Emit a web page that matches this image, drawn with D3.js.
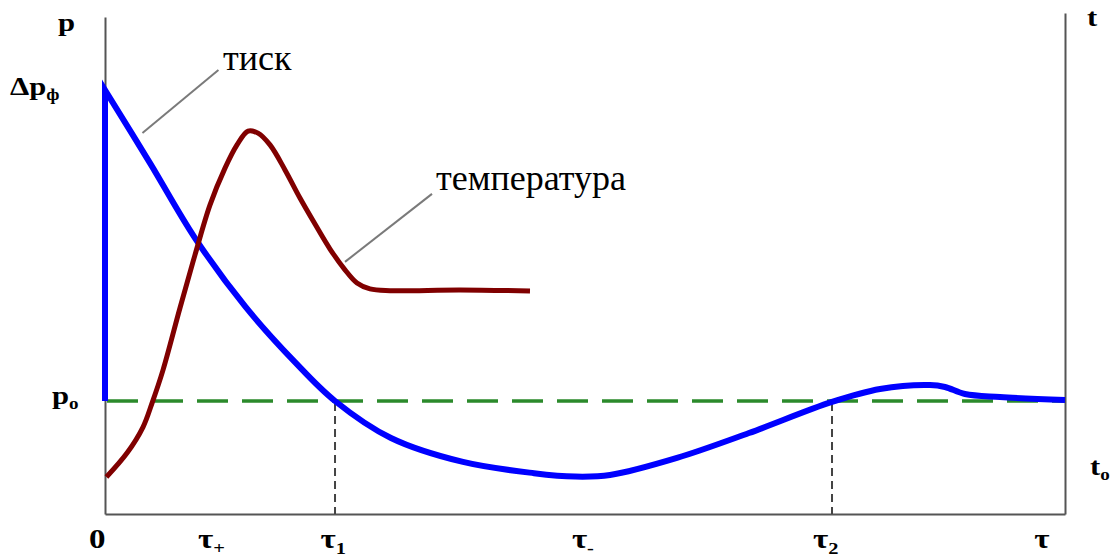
<!DOCTYPE html>
<html>
<head>
<meta charset="utf-8">
<script src="https://cdn.jsdelivr.net/npm/d3@7"></script>
<style>
  html, body { margin: 0; padding: 0; background: #fff; }
  svg { display: block; }
</style>
</head>
<body>
<div id="chart"></div>
<script>
// pressure curve (tau in % of the plotted span, p relative: p0 = 0, Δpф = 1)
const pressTau = [0, 0, 4.69, 9.375, 14.58, 19.79, 23.96, 29.79, 37.29, 44.69, 48.96, 52.6, 59.58, 67.08, 75.73, 80.73, 85.94, 87.5, 89.58, 93.23, 100];
const pressVal = [0, 1, 0.765, 0.524, 0.305, 0.125, 0, -0.119, -0.196, -0.232, -0.243, -0.238, -0.183, -0.103, -0.003, 0.0386, 0.0514, 0.045, 0.0225, 0.0129, 0.003];

// temperature curve (t0 = 0, peak = 1)
const tempTau = [0.15, 2.29, 3.96, 4.9, 6.04, 7.81, 9.375, 10.94, 12.5, 13.75, 14.9, 15.94, 17.19, 18.75, 20.31, 21.875, 23.44, 25.0, 26.25, 27.6, 29.69, 36.98, 44.27];
const tempVal = [0, 0.069, 0.144, 0.213, 0.308, 0.487, 0.640, 0.784, 0.890, 0.957, 0.997, 0.991, 0.957, 0.885, 0.804, 0.729, 0.657, 0.597, 0.559, 0.542, 0.537, 0.539, 0.536];

// bottom tick labels: [base, subscript]
const tauTickValues = [-0.8, 11.5, 24.2, 50.2, 75.5, 97.6];
const tauTickLabels = [['0', ''], ['τ', '+'], ['τ', '1'], ['τ', '-'], ['τ', '2'], ['τ', '']];
// vertical guides at tau1, tau2
const crossTau = [23.96, 75.73];

const width = 1112, height = 557;
const SX = 1.18; // text in the reference is stretched sideways
const FONT = "'Liberation Serif', 'Times New Roman', serif";

const x = d3.scaleLinear().domain([0, 100]).range([105, 1065]);
const y = d3.scaleLinear().domain([0, 1]).range([401, 90]);
const yT = d3.scaleLinear().domain([0, 1]).range([477, 130]);
const BOTTOM = 514;

const svg = d3.select('#chart').append('svg')
    .attr('width', width)
    .attr('height', height)
    .attr('font-family', FONT);

// --- axes
const yLeft = y.copy().domain([y.invert(BOTTOM), y.invert(17)]).range([BOTTOM, 17]);
const yRight = y.copy().domain([y.invert(BOTTOM), y.invert(13)]).range([BOTTOM, 13]);
const axisStyle = g => {
    g.select('.domain').attr('stroke', '#555').attr('stroke-width', 2);
    g.selectAll('.tick').remove();
};
svg.append('g').attr('transform', `translate(${x(0)},0)`)
    .call(d3.axisLeft(yLeft).tickValues([]).tickSizeOuter(0)).call(axisStyle);
svg.append('g').attr('transform', `translate(${x(100)},0)`)
    .call(d3.axisRight(yRight).tickValues([]).tickSizeOuter(0)).call(axisStyle);
svg.append('g').attr('transform', `translate(0,${BOTTOM})`)
    .call(d3.axisBottom(x).tickValues([]).tickSizeOuter(0)).call(axisStyle);

// --- guides
svg.append('line')
    .attr('x1', x(0) + 2).attr('x2', x(100))
    .attr('y1', y(0)).attr('y2', y(0))
    .attr('stroke', '#2b8a2b').attr('stroke-width', 3.5)
    .attr('stroke-dasharray', '31,14');

svg.selectAll('.vguide').data(crossTau).join('line')
    .attr('class', 'vguide')
    .attr('x1', d => x(d)).attr('x2', d => x(d))
    .attr('y1', y(0) + 2).attr('y2', BOTTOM)
    .attr('stroke', '#444').attr('stroke-width', 2)
    .attr('stroke-dasharray', '8,5');

// --- pressure line: straight jump at 0, then smooth
const pressPts = pressTau.map((t, i) => [x(t), y(pressVal[i])]);
const smooth = d3.line().curve(d3.curveCatmullRom.alpha(0.5))(pressPts.slice(1));
svg.append('path')
    .attr('d', `M${pressPts[0][0]},${pressPts[0][1]}L` + smooth.slice(1))
    .attr('fill', 'none')
    .attr('stroke', '#0000ff')
    .attr('stroke-width', 6)
    .attr('stroke-linejoin', 'miter');

// --- temperature line
const tempLine = d3.line()
    .x((d, i) => x(tempTau[i]))
    .y(d => yT(d))
    .curve(d3.curveCatmullRom.alpha(0.5));
svg.append('path')
    .datum(tempVal)
    .attr('d', tempLine)
    .attr('fill', 'none')
    .attr('stroke', '#800000')
    .attr('stroke-width', 5)
    .attr('stroke-linecap', 'butt');

// --- annotation leaders
const leaders = [
    { tau: 3.9, p: 0.862, dx: 76, dy: -63 },
    { tau: 25.0, p: 0.620, dx: 87, dy: -68, temp: true },
];
leaders.forEach(l => {
    const x0 = x(l.tau), y0 = l.temp ? yT(l.p) : y(l.p);
    svg.append('line')
        .attr('x1', x0).attr('y1', y0)
        .attr('x2', x0 + l.dx).attr('y2', y0 + l.dy)
        .attr('stroke', '#7a7a7a').attr('stroke-width', 2);
});

svg.append('text')
    .attr('x', 223).attr('y', 70)
    .attr('font-size', 36)
    .text('тиск');
svg.append('text')
    .attr('x', 436).attr('y', 190)
    .attr('font-size', 36)
    .text('температура');

// --- bold symbolic labels
function symLabel(px, py, base, sub, size, anchor) {
    const g = svg.append('g').attr('transform', `translate(${px},${py}) scale(${SX},1)`);
    const t = g.append('text')
        .attr('font-size', size)
        .attr('font-weight', 'bold')
        .attr('text-anchor', anchor || 'start');
    t.append('tspan').text(base);
    if (sub) {
        t.append('tspan')
            .attr('font-size', size * 0.62)
            .attr('dy', size * 0.2)
            .text(sub);
    }
    return t;
}

tauTickValues.forEach((v, i) => {
    const [b, s] = tauTickLabels[i];
    symLabel(x(v) - (s ? 4 : 0), 548, b, s, 28, 'middle');
});

symLabel(58, 31, 'p', '', 26);
symLabel(10, y(1) + 5, 'Δp', 'ф', 26);
symLabel(52, y(0) + 3, 'p', 'o', 26);
symLabel(1087, 26, 't', '', 26);
symLabel(1090, yT(0) - 2, 't', 'o', 26);
</script>
</body>
</html>
